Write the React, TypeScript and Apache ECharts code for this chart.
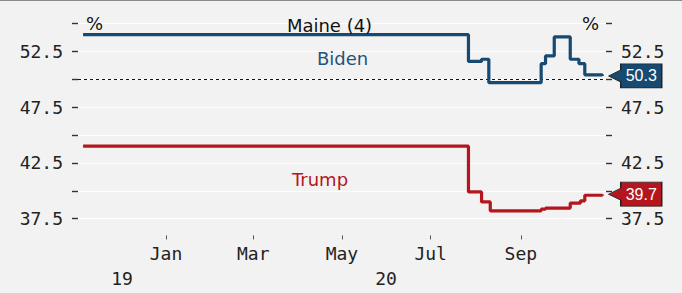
import React, { useEffect, useRef } from "react";
import * as echarts from "echarts";

// ---- data ----
const bidenDates = [
  "2019-11-05", "2020-07-27", "2020-08-05", "2020-08-10", "2020-09-15",
  "2020-09-18", "2020-09-24", "2020-10-05", "2020-10-11", "2020-10-15", "2020-10-27",
];
const bidenValues = [54.0, 51.6, 51.8, 49.7, 51.4, 52.1, 53.8, 51.8, 51.4, 50.4, 50.3];

const trumpDates = [
  "2019-11-05", "2020-07-27", "2020-08-05", "2020-08-11", "2020-09-15",
  "2020-09-18", "2020-10-05", "2020-10-12", "2020-10-15", "2020-10-27",
];
const trumpValues = [44.0, 39.9, 39.0, 38.2, 38.35, 38.45, 38.9, 39.1, 39.6, 39.7];

const monthTickDates = ["2020-01-01", "2020-03-01", "2020-05-01", "2020-07-01", "2020-09-01"];
const monthTickLabels = ["Jan", "Mar", "May", "Jul", "Sep"];
const yearLabels = ["19", "20"];
const yearStart = "2020-01-01";
const xMinDate = "2019-11-01T12:00:00";
const xMaxDate = "2020-10-29T14:00:00";

const yTickValues = [37.5, 40, 42.5, 45, 47.5, 50, 52.5, 55];
const yLabelValues = [37.5, 42.5, 47.5, 52.5];
const gridValues = [37.5, 40, 42.5, 45, 47.5, 50, 52.5, 55];
const referenceValue = 50;

const BLUE = "#164a72";
const BLUE_TEXT = "#1f5379";
const RED = "#b5161e";
const BG = "#f2f2f2";
const AXIS_FONT = "DejaVu Sans Mono";
const LABEL_FONT = "DejaVu Sans";

const t = (s: string) => new Date(s.length === 10 ? s + "T00:00:00" : s).getTime();

export default function App() {
  const ref = useRef<HTMLDivElement>(null);

  useEffect(() => {
    if (!ref.current) return;
    const chart = echarts.init(ref.current, undefined, { renderer: "svg" });

    const xMin = t(xMinDate);
    const xMax = t(xMaxDate);
    const y0 = t(yearStart);
    const yearMids = [(xMin + y0) / 2, (y0 + xMax) / 2];
    const monthTs = monthTickDates.map(t);

    const bidenData = bidenDates.map((d, i) => [t(d), bidenValues[i]]);
    const trumpData = trumpDates.map((d, i) => [t(d), trumpValues[i]]);
    const bLast = bidenData[bidenData.length - 1];
    const tLast = trumpData[trumpData.length - 1];

    const tagPath = "path://M0,12 L12,6 L12,0 L53,0 L53,24 L12,24 L12,18 Z";

    const makeTag = (last: number[], color: string) => ({
      symbol: tagPath,
      symbolSize: [53, 24],
      symbolOffset: [33, 0],
      silent: true,
      itemStyle: { color, borderColor: "#222", borderWidth: 1 },
      label: {
        show: true,
        position: "inside",
        offset: [6, 0],
        color: "#fff",
        fontFamily: "Liberation Sans",
        fontSize: 16,
        formatter: () => (last[1] as number).toFixed(1),
      },
      data: [{ coord: [last[0], last[1]], value: last[1] }],
    });

    const nearest = (arr: number[], v: number) => {
      let best = -1;
      let bd = Infinity;
      arr.forEach((a, i) => {
        const d = Math.abs(a - v);
        if (d < bd) {
          bd = d;
          best = i;
        }
      });
      return bd < 1000 ? best : -1;
    };

    const yAxisBase = (position: "left" | "right") => ({
      type: "value",
      min: 36,
      max: 57,
      position,
      axisLine: { show: false },
      splitLine: { show: false },
      axisTick: {
        show: true,
        customValues: yTickValues,
        length: 6,
        lineStyle: { color: "#333", width: 1.4 },
      },
      axisLabel: {
        customValues: yLabelValues,
        formatter: (v: number) => v.toFixed(1),
        margin: 15,
        fontFamily: AXIS_FONT,
        fontSize: 18,
        color: "#222",
      },
    });

    chart.setOption({
      animation: false,
      backgroundColor: BG,
      grid: { left: 78, right: 76, top: 1.25, bottom: 57.6, containLabel: false },
      xAxis: [
        {
          type: "value",
          min: xMin,
          max: xMax,
          position: "bottom",
          axisLine: { show: false },
          splitLine: { show: false },
          axisTick: {
            show: true,
            customValues: monthTs,
            length: 4,
            lineStyle: { color: "#555", width: 1 },
          },
          axisLabel: {
            customValues: monthTs,
            formatter: (v: number) => {
              const i = nearest(monthTs, v);
              return i >= 0 ? monthTickLabels[i] : "";
            },
            margin: 9,
            fontFamily: AXIS_FONT,
            fontSize: 18,
            color: "#222",
          },
        },
        {
          type: "value",
          min: xMin,
          max: xMax,
          position: "bottom",
          axisLine: { show: false },
          splitLine: { show: false },
          axisTick: { show: false },
          axisLabel: {
            customValues: yearMids,
            formatter: (v: number) => {
              const i = nearest(yearMids, v);
              return i >= 0 ? yearLabels[i] : "";
            },
            margin: 34,
            fontFamily: AXIS_FONT,
            fontSize: 18,
            color: "#222",
          },
        },
      ],
      yAxis: [yAxisBase("left"), yAxisBase("right")],
      series: [
        {
          type: "line",
          name: "grid",
          data: bidenData,
          symbol: "none",
          silent: true,
          lineStyle: { opacity: 0, width: 0 },
          z: 0,
          markLine: {
            silent: true,
            symbol: "none",
            z: 0,
            label: { show: false },
            animation: false,
            data: [
              ...gridValues.map((v) => ({
                yAxis: v,
                lineStyle: { color: "#ffffff", width: 1.2, type: "solid" },
              })),
              {
                yAxis: referenceValue,
                lineStyle: { color: "#111", width: 1, type: [3, 3] },
              },
            ],
          },
        },
        {
          type: "line",
          name: "Biden",
          data: bidenData,
          step: "end",
          symbol: "none",
          clip: false,
          lineStyle: { color: BLUE, width: 3.2 },
          z: 3,
          markPoint: makeTag(bLast, BLUE),
        },
        {
          type: "line",
          name: "Trump",
          data: trumpData,
          step: "end",
          symbol: "none",
          clip: false,
          lineStyle: { color: RED, width: 3.2 },
          z: 3,
          markPoint: makeTag(tLast, RED),
        },
      ],
      graphic: [
        {
          type: "line",
          shape: { x1: 0, y1: 0.5, x2: 682, y2: 0.5 },
          style: { stroke: "#8a8a8a", lineWidth: 1 },
        },
        {
          type: "text",
          x: 329.5,
          y: 25,
          z: 10,
          style: {
            text: "Maine (4)",
            fontFamily: LABEL_FONT,
            fontSize: 18,
            fill: "#111",
            align: "center",
            verticalAlign: "middle",
          },
        },
        {
          type: "text",
          x: 342.5,
          y: 58,
          z: 10,
          style: {
            text: "Biden",
            fontFamily: LABEL_FONT,
            fontSize: 18,
            fill: BLUE_TEXT,
            align: "center",
            verticalAlign: "middle",
          },
        },
        {
          type: "text",
          x: 320,
          y: 179,
          z: 10,
          style: {
            text: "Trump",
            fontFamily: LABEL_FONT,
            fontSize: 18,
            fill: RED,
            align: "center",
            verticalAlign: "middle",
          },
        },
        {
          type: "text",
          x: 94.5,
          y: 23,
          z: 10,
          style: {
            text: "%",
            fontFamily: LABEL_FONT,
            fontSize: 18,
            fill: "#111",
            align: "center",
            verticalAlign: "middle",
          },
        },
        {
          type: "text",
          x: 590.5,
          y: 23,
          z: 10,
          style: {
            text: "%",
            fontFamily: LABEL_FONT,
            fontSize: 18,
            fill: "#111",
            align: "center",
            verticalAlign: "middle",
          },
        },
      ],
    });

    return () => chart.dispose();
  }, []);

  return (
    <div
      ref={ref}
      style={{ position: "absolute", left: 0, top: 0, width: 682, height: 293 }}
    />
  );
}
